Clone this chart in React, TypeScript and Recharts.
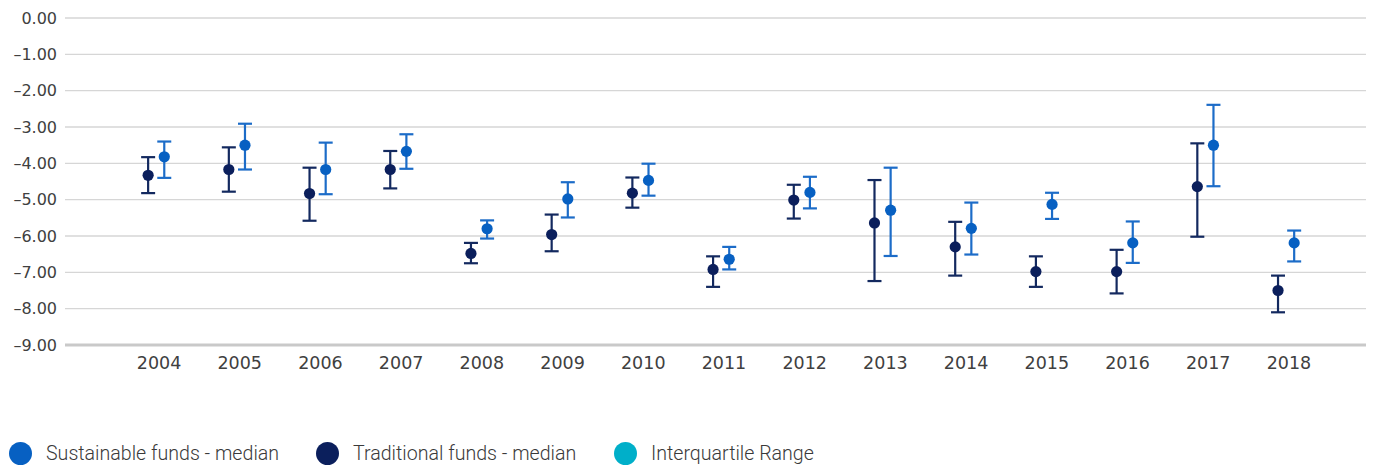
import React from 'react';
import { ComposedChart, Scatter, XAxis, YAxis, CartesianGrid, ErrorBar } from 'recharts';

const years = ['2004', '2005', '2006', '2007', '2008', '2009', '2010', '2011', '2012', '2013', '2014', '2015', '2016', '2017', '2018'];

const tradMedian = [-4.33, -4.17, -4.83, -4.17, -6.48, -5.96, -4.82, -6.92, -5.01, -5.64, -6.3, -6.98, -6.98, -4.64, -7.5];
const tradHigh = [-3.83, -3.56, -4.12, -3.66, -6.19, -5.41, -4.39, -6.56, -4.59, -4.46, -5.61, -6.56, -6.38, -3.45, -7.09];
const tradLow = [-4.82, -4.78, -5.58, -4.69, -6.75, -6.42, -5.22, -7.4, -5.52, -7.24, -7.09, -7.4, -7.58, -6.02, -8.1];

const sustMedian = [-3.82, -3.5, -4.17, -3.67, -5.8, -4.98, -4.47, -6.64, -4.8, -5.29, -5.79, -5.13, -6.19, -3.5, -6.19];
const sustHigh = [-3.4, -2.91, -3.43, -3.2, -5.57, -4.52, -4.01, -6.3, -4.37, -4.12, -5.08, -4.81, -5.6, -2.39, -5.85];
const sustLow = [-4.4, -4.17, -4.85, -4.15, -6.07, -5.49, -4.89, -6.92, -5.24, -6.55, -6.51, -5.53, -6.74, -4.63, -6.7];

const yTicks = [0, -1, -2, -3, -4, -5, -6, -7, -8, -9];

const legendItems = [
  { label: 'Sustainable funds - median', color: '#0760C2', left: 9 },
  { label: 'Traditional funds - median', color: '#0B1F5C', left: 316 },
  { label: 'Interquartile Range', color: '#00AFC9', left: 614 },
];

// where each series sits inside its year slot
const TRAD_SHIFT = -0.135;
const SUST_SHIFT = 0.065;

const makeRows = (med: number[], hi: number[], lo: number[], shift: number) =>
  med.map((m, i) => ({
    x: i + shift,
    y: m,
    err: [+(m - lo[i]).toFixed(2), +(hi[i] - m).toFixed(2)],
  }));

const tradRows = makeRows(tradMedian, tradHigh, tradLow, TRAD_SHIFT);
const sustRows = makeRows(sustMedian, sustHigh, sustLow, SUST_SHIFT);

const fmtY = (v: number) => v.toFixed(2).replace('-', '\u2013');

const dot = (color: string) => (props: any) => (
  <circle cx={props.cx} cy={props.cy} r={5.6} fill={color} />
);

const App = () => {
  return (
    <div style={{ position: 'absolute', left: 0, top: 0, width: 1375, height: 466, background: '#fff' }}>
      <ComposedChart
        width={1375}
        height={466}
        margin={{ top: 18, right: 9, left: 0, bottom: 81 }}
      >
        <CartesianGrid vertical={false} stroke="#d6d6d6" strokeWidth={1.4} />
        <XAxis
          type="number"
          dataKey="x"
          domain={[-1.165, 14.955]}
          ticks={years.map((_, i) => i)}
          tickFormatter={(i: number) => years[i]}
          allowDataOverflow
          height={40}
          tickLine={false}
          tickSize={6}
          tickMargin={6}
          axisLine={{ stroke: '#c9c9c9', strokeWidth: 3 }}
          tick={{ fill: '#404040', fontSize: 17.5, fontFamily: 'DejaVu Sans' }}
        />
        <YAxis
          type="number"
          dataKey="y"
          domain={[-9, 0]}
          ticks={yTicks}
          tickFormatter={fmtY}
          width={65}
          axisLine={false}
          tickLine={false}
          tickSize={0}
          tickMargin={8}
          tick={{ fill: '#404040', fontSize: 16, fontFamily: 'DejaVu Sans' }}
        />
        <Scatter data={tradRows} isAnimationActive={false} shape={dot('#0B1F5C')}>
          <ErrorBar dataKey="err" direction="y" width={7} strokeWidth={2.2} stroke="#13295F" />
        </Scatter>
        <Scatter data={sustRows} isAnimationActive={false} shape={dot('#0760C2')}>
          <ErrorBar dataKey="err" direction="y" width={7} strokeWidth={2.2} stroke="#1C6CC8" />
        </Scatter>
      </ComposedChart>

      {legendItems.map((item) => (
        <div
          key={item.label}
          style={{ position: 'absolute', top: 441, left: item.left, display: 'flex', alignItems: 'center', height: 24 }}
        >
          <span style={{ width: 23, height: 23, borderRadius: '50%', background: item.color, display: 'inline-block' }} />
          <span
            style={{
              marginLeft: 14,
              fontFamily: 'Roboto',
              fontWeight: 300,
              fontSize: 19.6,
              color: '#3a3a3a',
              whiteSpace: 'nowrap',
            }}
          >
            {item.label}
          </span>
        </div>
      ))}
    </div>
  );
};

export default App;
